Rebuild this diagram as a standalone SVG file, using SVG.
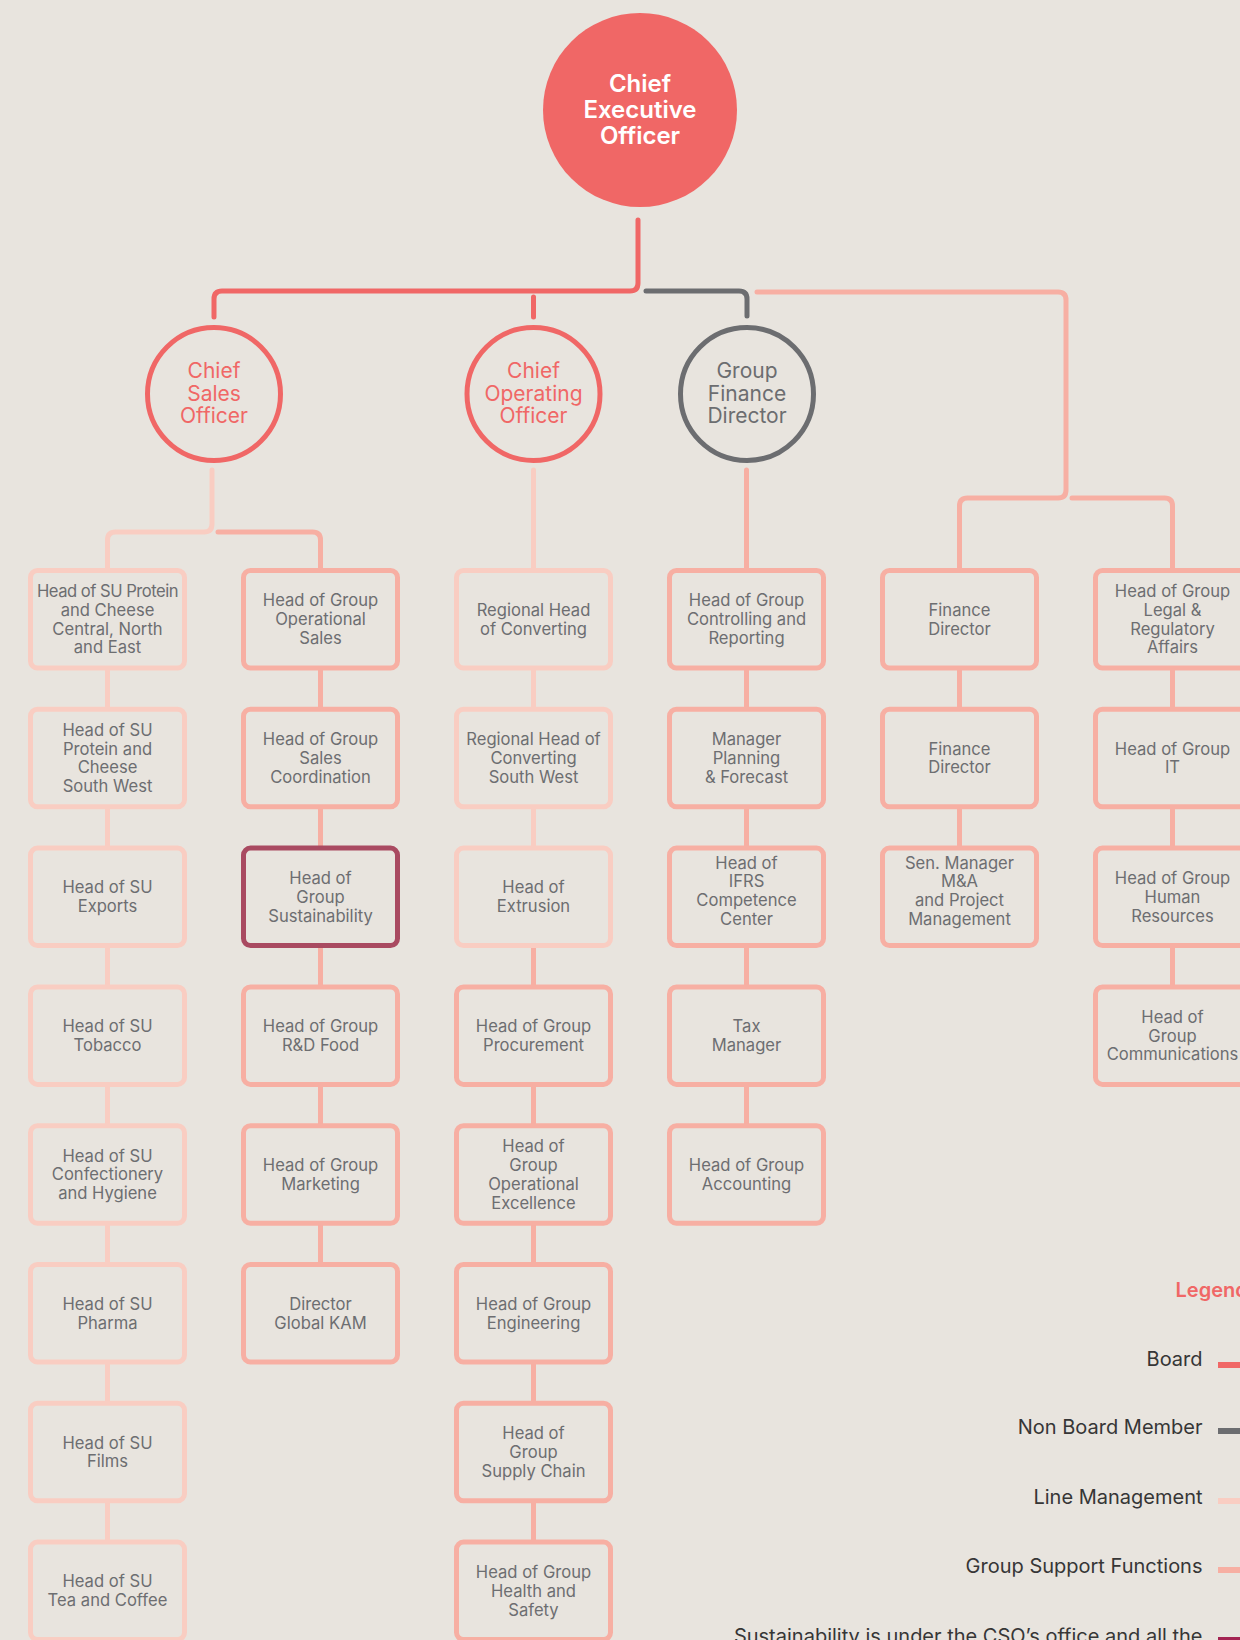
<svg xmlns="http://www.w3.org/2000/svg" width="1240" height="1640" viewBox="0 0 1240 1640">
<style>
.bg{fill:#E8E4DE}
.c{fill:none;stroke-width:5;stroke-linecap:round;stroke-linejoin:round}
.v{fill:none;stroke-width:5}
.board{stroke:#F06766}
.nb{stroke:#6C6D70}
.lm{stroke:#F9CDC2}
.gs{stroke:#F7AFA3}
.su{stroke:#A94A61}
.box{fill:#E8E4DE;stroke-width:5}
.t{font-family:Inter,"Open Sans","Liberation Sans",sans-serif;font-size:16.6px;fill:#6D6E71;text-anchor:middle}
.ct{font-family:Inter,"Open Sans","Liberation Sans",sans-serif;font-size:21px;text-anchor:middle}
.ceo{font-family:Inter,"Open Sans","Liberation Sans",sans-serif;font-size:24px;font-weight:600;fill:#FFFFFF;text-anchor:middle}
.lg{font-family:Inter,"Open Sans","Liberation Sans",sans-serif;font-size:20px;fill:#363636;text-anchor:end}
</style>
<rect class="bg" x="0" y="0" width="1240" height="1640"/>

<g id="connectors">
  <path class="c board" d="M638,220 V283 Q638,291 630,291 H222 Q214,291 214,299 V317"/>
  <path class="c board" d="M533.5,297 V317"/>
  <path class="c nb" d="M646,291 H739 Q747,291 747,299 V316"/>
  <path class="c gs" d="M757,292 H1058 Q1066,292 1066,300 V490 Q1066,498 1058,498 H967.5 Q959.5,498 959.5,506 V568"/>
  <path class="c gs" d="M1072,498 H1164.5 Q1172.5,498 1172.5,506 V568"/>
  <path class="c lm" d="M212,470 V524 Q212,532 204,532 H115.5 Q107.5,532 107.5,540 V568"/>
  <path class="c gs" d="M218,532 H312.5 Q320.5,532 320.5,540 V568"/>
  <path class="c lm" d="M533.5,470 V568"/>
  <path class="c gs" d="M746.5,470 V568"/>
  <path class="v lm" d="M107.5,670 V707 M107.5,809 V846 M107.5,948 V985 M107.5,1087 V1124 M107.5,1225 V1262 M107.5,1364 V1401 M107.5,1503 V1540"/>
  <path class="v gs" d="M320.5,670 V707 M320.5,809 V846 M320.5,948 V985 M320.5,1087 V1124 M320.5,1225 V1262"/>
  <path class="v lm" d="M533.5,670 V707 M533.5,809 V846"/>
  <path class="v gs" d="M533.5,948 V985 M533.5,1087 V1124 M533.5,1225 V1262 M533.5,1364 V1401 M533.5,1503 V1540"/>
  <path class="v gs" d="M746.5,670 V707 M746.5,809 V846 M746.5,948 V985 M746.5,1087 V1124"/>
  <path class="v gs" d="M959.5,670 V707 M959.5,809 V846"/>
  <path class="v gs" d="M1172.5,670 V707 M1172.5,809 V846 M1172.5,948 V985"/>
</g>

<g id="ceo">
  <circle cx="640" cy="110" r="97" fill="#F06766"/>
  <text class="ceo" x="640" y="92">Chief<tspan x="640" dy="26">Executive</tspan><tspan x="640" dy="26">Officer</tspan></text>
</g>
<g id="cso">
  <circle cx="214" cy="394" r="66.5" fill="none" stroke="#F06766" stroke-width="5"/>
  <text class="ct" fill="#F06766" x="214" y="378">Chief<tspan x="214" dy="22.5">Sales</tspan><tspan x="214" dy="22.5">Officer</tspan></text>
</g>
<g id="coo">
  <circle cx="533.5" cy="394" r="66.5" fill="none" stroke="#F06766" stroke-width="5"/>
  <text class="ct" fill="#F06766" x="533.5" y="378">Chief<tspan x="533.5" dy="22.5">Operating</tspan><tspan x="533.5" dy="22.5">Officer</tspan></text>
</g>
<g id="gfd">
  <circle cx="747" cy="394" r="66.5" fill="none" stroke="#6C6D70" stroke-width="5"/>
  <text class="ct" fill="#6C6D70" x="747" y="378">Group<tspan x="747" dy="22.5">Finance</tspan><tspan x="747" dy="22.5">Director</tspan></text>
</g>

<g id="su-protein-cne"><rect class="box lm" x="30.5" y="570.5" width="154" height="97.5" rx="7"/><text class="t" x="107.5" y="597"><tspan letter-spacing="-0.5">Head of SU Protein</tspan><tspan x="107.5" dy="18.8">and Cheese</tspan><tspan x="107.5" dy="18.8">Central, North</tspan><tspan x="107.5" dy="18.8">and East</tspan></text></g>
<g id="su-protein-sw"><rect class="box lm" x="30.5" y="709.3" width="154" height="97.5" rx="7"/><text class="t" x="107.5" y="735.8">Head of SU<tspan x="107.5" dy="18.8">Protein and</tspan><tspan x="107.5" dy="18.8">Cheese</tspan><tspan x="107.5" dy="18.8">South West</tspan></text></g>
<g id="su-exports"><rect class="box lm" x="30.5" y="848.1" width="154" height="97.5" rx="7"/><text class="t" x="107.5" y="893.4">Head of SU<tspan x="107.5" dy="18.8">Exports</tspan></text></g>
<g id="su-tobacco"><rect class="box lm" x="30.5" y="986.9" width="154" height="97.5" rx="7"/><text class="t" x="107.5" y="1032.2">Head of SU<tspan x="107.5" dy="18.8">Tobacco</tspan></text></g>
<g id="su-confectionery"><rect class="box lm" x="30.5" y="1125.7" width="154" height="97.5" rx="7"/><text class="t" x="107.5" y="1161.6">Head of SU<tspan x="107.5" dy="18.8">Confectionery</tspan><tspan x="107.5" dy="18.8">and Hygiene</tspan></text></g>
<g id="su-pharma"><rect class="box lm" x="30.5" y="1264.5" width="154" height="97.5" rx="7"/><text class="t" x="107.5" y="1309.8">Head of SU<tspan x="107.5" dy="18.8">Pharma</tspan></text></g>
<g id="su-films"><rect class="box lm" x="30.5" y="1403.3" width="154" height="97.5" rx="7"/><text class="t" x="107.5" y="1448.6">Head of SU<tspan x="107.5" dy="18.8">Films</tspan></text></g>
<g id="su-tea"><rect class="box lm" x="30.5" y="1542.1" width="154" height="97.5" rx="7"/><text class="t" x="107.5" y="1587.4">Head of SU<tspan x="107.5" dy="18.8">Tea and Coffee</tspan></text></g>

<g id="op-sales"><rect class="box gs" x="243.5" y="570.5" width="154" height="97.5" rx="7"/><text class="t" x="320.5" y="606.4">Head of Group<tspan x="320.5" dy="18.8">Operational</tspan><tspan x="320.5" dy="18.8">Sales</tspan></text></g>
<g id="sales-coord"><rect class="box gs" x="243.5" y="709.3" width="154" height="97.5" rx="7"/><text class="t" x="320.5" y="745.2">Head of Group<tspan x="320.5" dy="18.8">Sales</tspan><tspan x="320.5" dy="18.8">Coordination</tspan></text></g>
<g id="sustainability"><rect class="box su" x="243.5" y="848.1" width="154" height="97.5" rx="7"/><text class="t" x="320.5" y="884">Head of<tspan x="320.5" dy="18.8">Group</tspan><tspan x="320.5" dy="18.8">Sustainability</tspan></text></g>
<g id="rd-food"><rect class="box gs" x="243.5" y="986.9" width="154" height="97.5" rx="7"/><text class="t" x="320.5" y="1032.2">Head of Group<tspan x="320.5" dy="18.8">R&amp;D Food</tspan></text></g>
<g id="marketing"><rect class="box gs" x="243.5" y="1125.7" width="154" height="97.5" rx="7"/><text class="t" x="320.5" y="1171">Head of Group<tspan x="320.5" dy="18.8">Marketing</tspan></text></g>
<g id="global-kam"><rect class="box gs" x="243.5" y="1264.5" width="154" height="97.5" rx="7"/><text class="t" x="320.5" y="1309.8">Director<tspan x="320.5" dy="18.8">Global KAM</tspan></text></g>

<g id="reg-converting"><rect class="box lm" x="456.5" y="570.5" width="154" height="97.5" rx="7"/><text class="t" x="533.5" y="615.8">Regional Head<tspan x="533.5" dy="18.8">of Converting</tspan></text></g>
<g id="reg-converting-sw"><rect class="box lm" x="456.5" y="709.3" width="154" height="97.5" rx="7"/><text class="t" x="533.5" y="745.2">Regional Head of<tspan x="533.5" dy="18.8">Converting</tspan><tspan x="533.5" dy="18.8">South West</tspan></text></g>
<g id="extrusion"><rect class="box lm" x="456.5" y="848.1" width="154" height="97.5" rx="7"/><text class="t" x="533.5" y="893.4">Head of<tspan x="533.5" dy="18.8">Extrusion</tspan></text></g>
<g id="procurement"><rect class="box gs" x="456.5" y="986.9" width="154" height="97.5" rx="7"/><text class="t" x="533.5" y="1032.2">Head of Group<tspan x="533.5" dy="18.8">Procurement</tspan></text></g>
<g id="op-excellence"><rect class="box gs" x="456.5" y="1125.7" width="154" height="97.5" rx="7"/><text class="t" x="533.5" y="1152.2">Head of<tspan x="533.5" dy="18.8">Group</tspan><tspan x="533.5" dy="18.8">Operational</tspan><tspan x="533.5" dy="18.8">Excellence</tspan></text></g>
<g id="engineering"><rect class="box gs" x="456.5" y="1264.5" width="154" height="97.5" rx="7"/><text class="t" x="533.5" y="1309.8">Head of Group<tspan x="533.5" dy="18.8">Engineering</tspan></text></g>
<g id="supply-chain"><rect class="box gs" x="456.5" y="1403.3" width="154" height="97.5" rx="7"/><text class="t" x="533.5" y="1439.2">Head of<tspan x="533.5" dy="18.8">Group</tspan><tspan x="533.5" dy="18.8">Supply Chain</tspan></text></g>
<g id="health-safety"><rect class="box gs" x="456.5" y="1542.1" width="154" height="97.5" rx="7"/><text class="t" x="533.5" y="1578">Head of Group<tspan x="533.5" dy="18.8">Health and</tspan><tspan x="533.5" dy="18.8">Safety</tspan></text></g>

<g id="controlling"><rect class="box gs" x="669.5" y="570.5" width="154" height="97.5" rx="7"/><text class="t" x="746.5" y="606.4">Head of Group<tspan x="746.5" dy="18.8">Controlling and</tspan><tspan x="746.5" dy="18.8">Reporting</tspan></text></g>
<g id="planning"><rect class="box gs" x="669.5" y="709.3" width="154" height="97.5" rx="7"/><text class="t" x="746.5" y="745.2">Manager<tspan x="746.5" dy="18.8">Planning</tspan><tspan x="746.5" dy="18.8">&amp; Forecast</tspan></text></g>
<g id="ifrs"><rect class="box gs" x="669.5" y="848.1" width="154" height="97.5" rx="7"/><text class="t" x="746.5" y="868.6">Head of<tspan x="746.5" dy="18.8">IFRS</tspan><tspan x="746.5" dy="18.8">Competence</tspan><tspan x="746.5" dy="18.8">Center</tspan></text></g>
<g id="tax"><rect class="box gs" x="669.5" y="986.9" width="154" height="97.5" rx="7"/><text class="t" x="746.5" y="1032.2">Tax<tspan x="746.5" dy="18.8">Manager</tspan></text></g>
<g id="accounting"><rect class="box gs" x="669.5" y="1125.7" width="154" height="97.5" rx="7"/><text class="t" x="746.5" y="1171">Head of Group<tspan x="746.5" dy="18.8">Accounting</tspan></text></g>

<g id="finance-director-1"><rect class="box gs" x="882.5" y="570.5" width="154" height="97.5" rx="7"/><text class="t" x="959.5" y="615.8">Finance<tspan x="959.5" dy="18.8">Director</tspan></text></g>
<g id="finance-director-2"><rect class="box gs" x="882.5" y="709.3" width="154" height="97.5" rx="7"/><text class="t" x="959.5" y="754.6">Finance<tspan x="959.5" dy="18.8">Director</tspan></text></g>
<g id="ma"><rect class="box gs" x="882.5" y="848.1" width="154" height="97.5" rx="7"/><text class="t" x="959.5" y="868.6">Sen. Manager<tspan x="959.5" dy="18.8">M&amp;A</tspan><tspan x="959.5" dy="18.8">and Project</tspan><tspan x="959.5" dy="18.8">Management</tspan></text></g>

<g id="legal"><rect class="box gs" x="1095.5" y="570.5" width="154" height="97.5" rx="7"/><text class="t" x="1172.5" y="597">Head of Group<tspan x="1172.5" dy="18.8">Legal &amp;</tspan><tspan x="1172.5" dy="18.8">Regulatory</tspan><tspan x="1172.5" dy="18.8">Affairs</tspan></text></g>
<g id="it"><rect class="box gs" x="1095.5" y="709.3" width="154" height="97.5" rx="7"/><text class="t" x="1172.5" y="754.6">Head of Group<tspan x="1172.5" dy="18.8">IT</tspan></text></g>
<g id="hr"><rect class="box gs" x="1095.5" y="848.1" width="154" height="97.5" rx="7"/><text class="t" x="1172.5" y="884">Head of Group<tspan x="1172.5" dy="18.8">Human</tspan><tspan x="1172.5" dy="18.8">Resources</tspan></text></g>
<g id="communications"><rect class="box gs" x="1095.5" y="986.9" width="154" height="97.5" rx="7"/><text class="t" x="1172.5" y="1022.8">Head of<tspan x="1172.5" dy="18.8">Group</tspan><tspan x="1172.5" dy="18.8">Communications</tspan></text></g>

<g id="legend">
  <text x="1175.5" y="1296.5" font-family="Inter,'Open Sans','Liberation Sans',sans-serif" font-size="20px" font-weight="600" fill="#F06766">Legend</text>
  <text class="lg" x="1202.5" y="1365.5">Board</text>
  <rect x="1218" y="1362" width="40" height="6" fill="#F06766"/>
  <text class="lg" x="1202.5" y="1434">Non Board Member</text>
  <rect x="1218" y="1428" width="40" height="6" fill="#6C6D70"/>
  <text class="lg" x="1202.5" y="1504">Line Management</text>
  <rect x="1218" y="1498" width="40" height="6" fill="#F9CDC2"/>
  <text class="lg" x="1202.5" y="1573">Group Support Functions</text>
  <rect x="1218" y="1567" width="40" height="6" fill="#F7AFA3"/>
  <text class="lg" x="1202.5" y="1643">Sustainability is under the CSO’s office and all the</text>
  <rect x="1218" y="1637" width="40" height="6" fill="#A32452"/>
</g>
</svg>
